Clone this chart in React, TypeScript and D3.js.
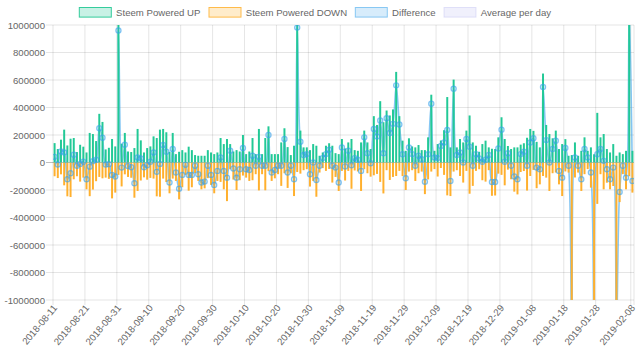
import React from "react";
import * as d3 from "d3";

// ---- data (values in thousands of STEEM per day) ----
const START_DATE = "2018-08-11";

const TICK_LABELS = [
  "2018-08-11", "2018-08-21", "2018-08-31", "2018-09-10", "2018-09-20",
  "2018-09-30", "2018-10-10", "2018-10-20", "2018-10-30", "2018-11-09",
  "2018-11-19", "2018-11-29", "2018-12-09", "2018-12-19", "2018-12-29",
  "2019-01-08", "2019-01-18", "2019-01-28", "2019-02-08",
];

const Y_TICKS = [-1000000, -800000, -600000, -400000, -200000, 0, 200000, 400000, 600000, 800000, 1000000];

const POWERED_UP = [
  141, 98, 166, 239, 124, 173, 178, 76, 129, 115,
  73, 215, 207, 156, 354, 295, 95, 107, 171, 117,
  1050, 137, 215, 80, 76, 105, 244, 161, 73, 105,
  117, 190, 178, 239, 244, 220, 78, 215, 61, 78,
  90, 73, 115, 90, 54, 49, 49, 49, 90, 73,
  61, 73, 178, 134, 171, 134, 80, 90, 80, 200,
  61, 80, 178, 61, 244, 61, 178, 263, 61, 61,
  61, 146, 249, 112, 54, 122, 1050, 232, 110, 110,
  90, 134, 122, 49, 73, 122, 140, 122, 68, 61,
  171, 102, 146, 171, 90, 85, 146, 232, 146, 98,
  337, 273, 446, 293, 378, 342, 386, 659, 337, 159,
  85, 176, 117, 110, 127, 90, 90, 183, 493, 85,
  134, 160, 235, 476, 110, 603, 110, 171, 146, 232,
  342, 146, 122, 78, 134, 159, 110, 100, 98, 183,
  329, 171, 120, 98, 110, 110, 130, 140, 180, 244,
  230, 150, 110, 647, 273, 207, 176, 232, 98, 134,
  170, 49, 54, 146, 49, 85, 183, 85, 110, 60,
  361, 183, 207, 98, 73, 134, 49, 73, 61, 85,
  1200, 85,
];

const POWERED_DOWN = [
  -100, -113, -86, -166, -246, -251, -122, -100, -139, -110,
  -195, -245, -197, -136, -105, -115, -110, -119, -261, -219,
  -90, -174, -86, -105, -111, -256, -207, -131, -108, -125,
  -112, -117, -246, -249, -117, -142, -224, -117, -134, -268,
  -180, -90, -205, -180, -78, -134, -195, -188, -114, -163,
  -224, -134, -141, -195, -281, -49, -124, -200, -129, -95,
  -110, -134, -129, -85, -203, -85, -202, -63, -134, -115,
  -85, -170, -78, -185, -78, -244, -69, -81, -56, -49,
  -175, -134, -249, -73, -41, -61, -47, -146, -105, -207,
  -61, -131, -61, -191, -58, -65, -207, -49, -78, -103,
  -93, -83, -141, -225, -56, -127, -105, -98, -61, -99,
  -200, -66, -56, -134, -78, -66, -230, -123, -66, -48,
  -102, -40, -90, -239, -244, -66, -56, -98, -146, -61,
  -227, -170, -61, -49, -129, -139, -56, -242, -240, -81,
  -90, -166, -52, -122, -212, -232, -69, -62, -204, -98,
  -54, -187, -159, -98, -110, -207, -78, -73, -159, -244,
  -65, -73, -1300, -109, -73, -207, -85, -48, -183, -1300,
  -301, -85, -195, -147, -195, -171, -1300, -288, -85, -195,
  -100, -219,
];

const DIFFERENCE = [
  41, -15, 80, 73, -122, -78, 56, -24, -10, 5,
  -122, -30, 10, 20, 249, 180, -15, -12, -90, -102,
  960, -37, 129, -25, -35, -151, 37, 30, -35, -20,
  5, 73, -68, -10, 127, 78, -146, 98, -73, -190,
  -90, -17, -90, -90, -24, -85, -146, -139, -24, -90,
  -163, -61, 37, -61, -110, 85, -44, -110, -49, 105,
  -49, -54, 49, -24, 41, -24, -24, 200, -73, -54,
  -24, -24, 171, -73, -24, -122, 981, 151, 54, 61,
  -85, 0, -127, -24, 32, 61, 93, -24, -37, -146,
  110, -29, 85, -20, 32, 20, -61, 183, 68, -5,
  244, 190, 305, 68, 322, 215, 281, 561, 276, 60,
  -115, 110, 61, -24, 49, 24, -140, 60, 427, 37,
  32, 120, 145, 237, -134, 537, 54, 73, 0, 171,
  115, -24, 61, 29, 5, 20, 54, -142, -142, 102,
  239, 5, 68, -24, -102, -122, 61, 78, -24, 146,
  176, -37, -49, 549, 163, 0, 98, 159, -61, -110,
  105, -24, -1246, 37, -24, -122, 98, 37, -73, -1240,
  60, 98, 12, -49, -122, -37, -1251, -215, -24, -110,
  1100, -134,
];

const LEGEND = [
  { label: "Steem Powered UP", fill: "rgba(34,201,150,0.25)", stroke: "#34cc9c" },
  { label: "Steem Powered DOWN", fill: "rgba(255,178,46,0.25)", stroke: "#ffbb4a" },
  { label: "Difference", fill: "rgba(54,162,235,0.2)", stroke: "rgba(54,162,235,0.55)" },
  { label: "Average per day", fill: "rgba(153,153,235,0.15)", stroke: "rgba(153,153,235,0.25)" },
];
const LEGEND_X = [79.3, 209, 355.3, 444];

const UP_COLOR = "#22c996";
const DOWN_COLOR = "#ffb02e";
const FONT = "'Liberation Sans', Arial, Helvetica, sans-serif";

export default function App() {
  const W = 640;
  const H = 361;
  const left = 53;
  const right = 634;
  const top = 25;
  const bottom = 300;

  const parse = d3.utcParse("%Y-%m-%d");
  const fmt = d3.utcFormat("%Y-%m-%d");
  const start = parse(START_DATE) as Date;
  const days = POWERED_UP.map((_, i) => fmt(d3.utcDay.offset(start, i)));

  const x = d3.scaleBand<string>().domain(days).range([left, right]).padding(0);
  const y = d3.scaleLinear().domain([-1000000, 1000000]).range([bottom, top]);
  const bw = x.bandwidth();
  const barW = bw * 0.62;
  const cx = (d: string) => (x(d) as number) + bw / 2;

  const linePts: [number, number][] = DIFFERENCE.map((v, i) => [cx(days[i]), y(v * 1000)]);
  const line = d3.line().curve(d3.curveCatmullRom.alpha(0.5))(linePts) || "";

  const y0 = y(0);

  return (
    <svg
      width={W}
      height={H}
      style={{ position: "absolute", left: 0, top: 0, background: "#fff" }}
      fontFamily={FONT}
    >
      <defs>
        <clipPath id="plot">
          <rect x={left} y={top} width={right - left} height={bottom - top} />
        </clipPath>
      </defs>

      {/* legend */}
      {LEGEND.map((l, i) => (
        <g key={l.label}>
          <rect x={LEGEND_X[i]} y={7.5} width={32} height={9.6} fill={l.fill} stroke={l.stroke} strokeWidth={1} />
          <text x={LEGEND_X[i] + 36.8} y={12.5} fontSize={9.6} fill="#666" dominantBaseline="central">
            {l.label}
          </text>
        </g>
      ))}

      {/* horizontal grid */}
      {Y_TICKS.map((t) => (
        <g key={t}>
          <line
            x1={46}
            x2={right}
            y1={y(t)}
            y2={y(t)}
            stroke={t === 0 ? "rgba(0,0,0,0.25)" : "rgba(0,0,0,0.1)"}
            strokeWidth={1}
          />
          <text x={45} y={y(t)} fontSize={9.6} fill="#666" textAnchor="end" dominantBaseline="central">
            {String(t)}
          </text>
        </g>
      ))}

      {/* vertical grid + x labels */}
      {TICK_LABELS.map((t) => (
        <g key={t}>
          <line x1={x(t) as number} x2={x(t) as number} y1={top} y2={305} stroke="rgba(0,0,0,0.1)" strokeWidth={1} />
          <text
            transform={`translate(${cx(t) + 0.5},${306}) rotate(-50)`}
            fontSize={9.6}
            fill="#666"
            textAnchor="end"
            dominantBaseline="central"
          >
            {t}
          </text>
        </g>
      ))}
      <line x1={right} x2={right} y1={top} y2={305} stroke="rgba(0,0,0,0.1)" strokeWidth={1} />

      <g clipPath="url(#plot)">
        {/* line under bars */}
        <path d={line} fill="none" stroke="rgba(54,162,235,0.6)" strokeWidth={1.6} />

        {POWERED_DOWN.map((v, i) => (
          <rect
            key={"d" + i}
            x={cx(days[i]) - barW / 2}
            y={y0}
            width={barW}
            height={y(v * 1000) - y0}
            fill={DOWN_COLOR}
          />
        ))}
        {POWERED_UP.map((v, i) => (
          <rect
            key={"u" + i}
            x={cx(days[i]) - barW / 2}
            y={y(v * 1000)}
            width={barW}
            height={y0 - y(v * 1000)}
            fill={UP_COLOR}
          />
        ))}

        {linePts.map(([px, py], i) => (
          <circle
            key={"p" + i}
            cx={px}
            cy={py}
            r={2.6}
            fill="rgba(54,162,235,0.2)"
            stroke="rgba(54,162,235,0.6)"
            strokeWidth={1.2}
          />
        ))}
      </g>
    </svg>
  );
}
